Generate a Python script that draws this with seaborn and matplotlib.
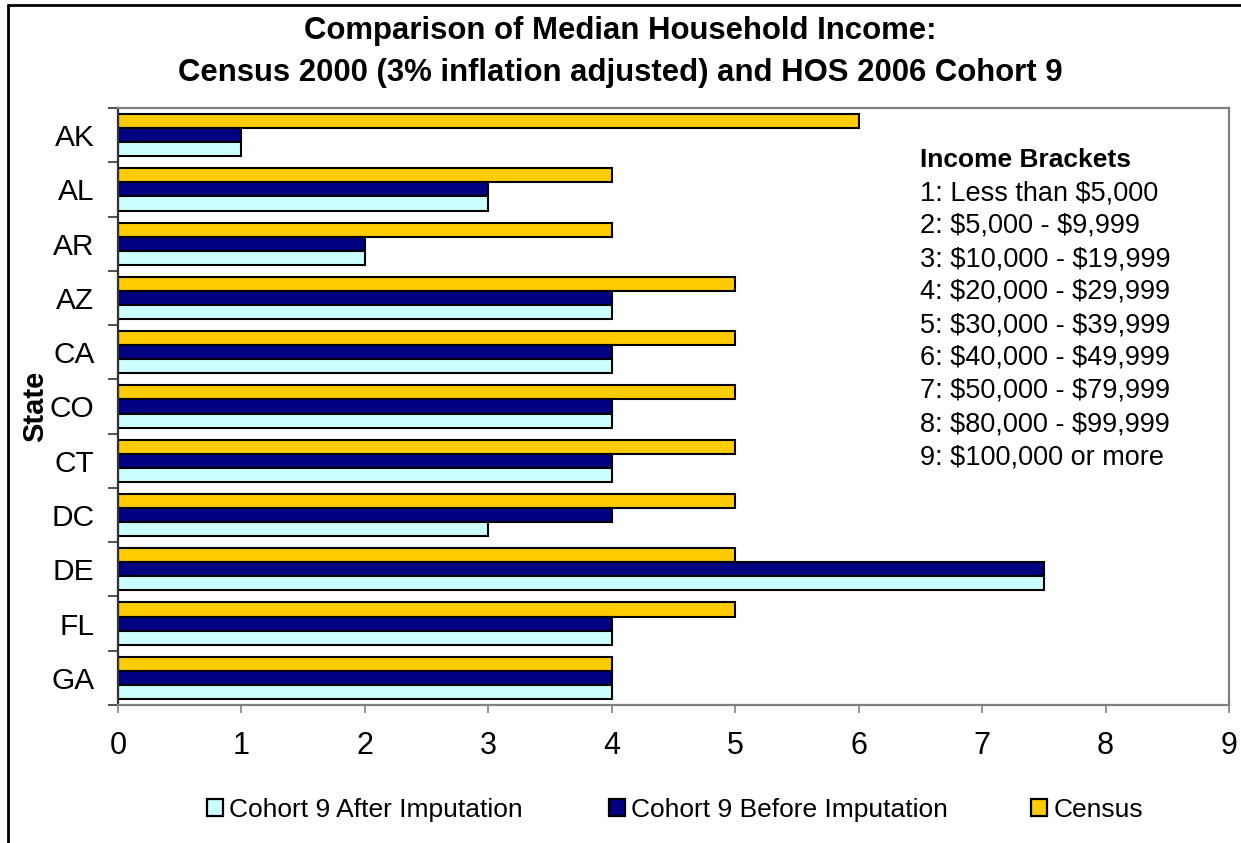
import numpy as np
import pandas as pd
import matplotlib
matplotlib.use("Agg")
import matplotlib.pyplot as plt
from matplotlib.patches import Patch
from matplotlib.lines import Line2D
from matplotlib.ticker import FixedLocator
import seaborn as sns

# ---- data -------------------------------------------------------------
states = ["AK", "AL", "AR", "AZ", "CA", "CO", "CT", "DC", "DE", "FL", "GA"]
census = [6, 4, 4, 5, 5, 5, 5, 5, 5, 5, 4]
before_imputation = [1, 3, 2, 4, 4, 4, 4, 4, 7.5, 4, 4]
after_imputation = [1, 3, 2, 4, 4, 4, 4, 3, 7.5, 4, 4]

series_names = ["Census", "Cohort 9 Before Imputation", "Cohort 9 After Imputation"]
series_colors = ["#FFCC00", "#000080", "#CCFFFF"]
legend_order = ["Cohort 9 After Imputation", "Cohort 9 Before Imputation", "Census"]

bracket_title = "Income Brackets"
bracket_lines = [
    "1: Less than $5,000",
    "2: $5,000 - $9,999",
    "3: $10,000 - $19,999",
    "4: $20,000 - $29,999",
    "5: $30,000 - $39,999",
    "6: $40,000 - $49,999",
    "7: $50,000 - $79,999",
    "8: $80,000 - $99,999",
    "9: $100,000 or more",
]
x_ticks = list(range(0, 10))

df = pd.DataFrame({
    "State": states * 3,
    "Value": census + before_imputation + after_imputation,
    "Series": [series_names[0]] * len(states)
    + [series_names[1]] * len(states)
    + [series_names[2]] * len(states),
})

# ---- figure -----------------------------------------------------------
sns.set_theme(style="white")
plt.rcParams["font.family"] = ["Liberation Sans", "DejaVu Sans"]
plt.rcParams.update({
    "text.color": "black",
    "axes.labelcolor": "black",
    "xtick.color": "black",
    "ytick.color": "black",
})

W, H = 1241, 843
fig = plt.figure(figsize=(W / 100, H / 100), dpi=100)
ax = fig.add_axes([118 / W, 1 - 705 / H, (1229 - 118) / W, (705 - 108) / H])

palette = dict(zip(series_names, series_colors))
sns.barplot(
    data=df, x="Value", y="State", hue="Series",
    hue_order=series_names, order=states, palette=palette,
    orient="h", width=0.78, gap=0, dodge=True,
    edgecolor="black", linewidth=1.5, saturation=1,
    legend=False, ax=ax,
)

ax.set_xlim(0, 9)
ax.set_ylim(len(states) - 0.5, -0.5)
ax.set_xticks(x_ticks)
ax.set_xticklabels([str(t) for t in x_ticks], fontsize=22)
ax.tick_params(axis="x", direction="out", length=6, width=1.2,
               color="#808080", pad=13, bottom=True)

# category labels centred, tick marks on category boundaries
ax.tick_params(axis="y", which="major", length=0, pad=17, labelsize=21.5)
ax.yaxis.set_minor_locator(FixedLocator(np.arange(-0.5, len(states), 1.0)))
ax.tick_params(axis="y", which="minor", direction="out", length=7,
               width=1.2, color="#333333", left=True)

ax.set_xlabel("")
ax.set_ylabel("State", fontsize=21, fontweight="bold")
ax.yaxis.set_label_coords(-0.062, 0.5)

for side in ["top", "right", "bottom"]:
    ax.spines[side].set_color("#808080")
    ax.spines[side].set_linewidth(1.6)
ax.spines["left"].set_color("#333333")
ax.spines["left"].set_linewidth(1.6)
ax.grid(False)

# ---- title ------------------------------------------------------------
fig.text(0.5, 1 - 31 / H, "Comparison of Median Household Income:",
         ha="center", va="center", fontsize=22.4, fontweight="bold")
fig.text(0.5, 1 - 73 / H,
         "Census 2000 (3% inflation adjusted) and HOS 2006 Cohort 9",
         ha="center", va="center", fontsize=22.4, fontweight="bold")

# ---- income bracket key ----------------------------------------------
fig.text(920 / W, 1 - 160 / H, bracket_title, ha="left", va="center",
         fontsize=19, fontweight="bold")
for i, line in enumerate(bracket_lines):
    fig.text(920 / W, 1 - (193 + 33 * i) / H, line, ha="left",
             va="center", fontsize=19.5, parse_math=False)

# ---- legend -----------------------------------------------------------
legend_x = {"Cohort 9 After Imputation": 207,
            "Cohort 9 Before Imputation": 609,
            "Census": 1031}
for name in legend_order:
    handle = Patch(facecolor=palette[name], edgecolor="black", linewidth=1.6)
    fig.legend([handle], [name], loc="center left",
               bbox_to_anchor=(legend_x[name] / W, 1 - 810 / H),
               frameon=False, fontsize=19, handlelength=0.62,
               handleheight=0.62, handletextpad=0.22, borderpad=0,
               borderaxespad=0)

# ---- chart frame ------------------------------------------------------
fig.add_artist(Line2D([8 / W, 1], [1 - 5 / H, 1 - 5 / H],
                      transform=fig.transFigure, color="black", lw=2))
fig.add_artist(Line2D([8 / W, 8 / W], [0, 1 - 5 / H],
                      transform=fig.transFigure, color="black", lw=2))

fig.savefig("out.png", dpi=100, facecolor="white")
